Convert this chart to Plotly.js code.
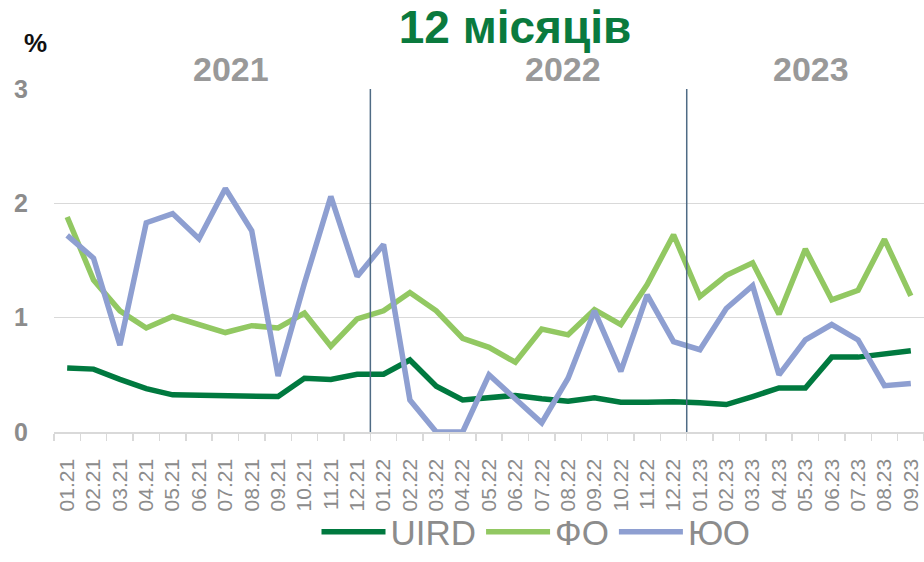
<!DOCTYPE html>
<html>
<head>
<meta charset="utf-8">
<script src="https://cdn.plot.ly/plotly-3.0.1.min.js"></script>
<style>html,body{margin:0;padding:0;background:#fff;}#chart{width:924px;height:562px;}</style>
</head>
<body>
<div id="chart"></div>
<script>
const months = ["01.21","02.21","03.21","04.21","05.21","06.21","07.21","08.21","09.21","10.21","11.21","12.21",
                "01.22","02.22","03.22","04.22","05.22","06.22","07.22","08.22","09.22","10.22","11.22","12.22",
                "01.23","02.23","03.23","04.23","05.23","06.23","07.23","08.23","09.23"];
const uird = [0.56,0.55,0.46,0.38,0.325,0.32,0.315,0.31,0.31,0.47,0.46,0.505,
              0.505,0.63,0.40,0.28,0.30,0.32,0.29,0.27,0.30,0.26,0.26,0.265,
              0.255,0.24,0.31,0.385,0.385,0.655,0.655,0.68,0.71];
const fo   = [1.88,1.33,1.06,0.91,1.01,0.94,0.87,0.93,0.91,1.04,0.75,0.99,
              1.06,1.22,1.06,0.82,0.74,0.61,0.90,0.85,1.07,0.94,1.29,1.725,
              1.185,1.37,1.48,1.03,1.60,1.155,1.24,1.685,1.19];
const yuo  = [1.72,1.52,0.76,1.83,1.91,1.69,2.13,1.76,0.49,1.30,2.06,1.36,
              1.64,0.28,0.0,0.0,0.50,0.29,0.08,0.47,1.06,0.53,1.20,0.79,
              0.72,1.08,1.28,0.50,0.805,0.94,0.805,0.405,0.425];
const seriesNames = ["UIRD","ФО","ЮО"];
const years = ["2021","2022","2023"];
const yearDividers = [11.5, 23.5];
const yearLabelPos = [6.2, 18.8, 28.2];

const colors = ["#00793f","#92c862","#8e9fd1"];
const FONT = "Liberation Sans, Arial, sans-serif";

const traces = [uird, fo, yuo].map((vals, i) => ({
  x: months, y: vals, type: "scatter", mode: "lines", name: seriesNames[i],
  line: {color: colors[i], width: 5.5, shape: "linear"}
}));

const shapes = yearDividers.map(v => ({
  type: "line", xref: "x", yref: "y", x0: v, x1: v, y0: 0, y1: 3,
  line: {color: "#4f6b85", width: 1.5}, layer: "above"
}));

const annotations = years.map((t, i) => ({
  text: t, xref: "x", yref: "paper", x: yearLabelPos[i], y: 1 + 20/350,
  xanchor: "center", yanchor: "middle", showarrow: false,
  font: {family: FONT, size: 34, color: "#999999", weight: "bold"}
}));
annotations.push({
  text: "%", xref: "paper", yref: "paper", x: (35-54)/870, y: 1 + 47/350,
  xanchor: "center", yanchor: "middle", showarrow: false,
  font: {family: FONT, size: 26, color: "#111111", weight: "bold"}
});

const layout = {
  width: 924, height: 562,
  margin: {l: 54, r: 0, t: 89, b: 123, pad: 0},
  paper_bgcolor: "#ffffff", plot_bgcolor: "#ffffff",
  showlegend: true,
  title: {text: "12 місяців", x: 515/924, xanchor: "center", xref: "container",
          y: 1 - 27/562, yanchor: "middle", yref: "container",
          font: {family: FONT, size: 46, color: "#0a7a3e", weight: "bold"}},
  xaxis: {
    type: "category", range: [-0.5, 32.5], tickangle: -90,
    tickson: "boundaries", ticks: "outside", ticklen: 7, tickcolor: "#d9d9d9", tickwidth: 1.5,
    showgrid: false, showline: true, linecolor: "#d9d9d9", linewidth: 1.5,
    tickfont: {family: FONT, size: 21, color: "#8c8c8c"}, ticklabelstandoff: 17,
    fixedrange: true
  },
  yaxis: {
    range: [0, 3], dtick: 1, tick0: 0, showgrid: true, gridcolor: "#d9d9d9", gridwidth: 1.5,
    zeroline: false, showline: false, ticks: "",
    tickfont: {family: FONT, size: 25, color: "#8c8c8c", weight: "bold"},
    ticklabelstandoff: 25, fixedrange: true
  },
  legend: {
    orientation: "h", x: (536-54)/870, xanchor: "center", xref: "paper",
    y: (439-541)/350, yanchor: "middle",
    font: {family: FONT, size: 35, color: "#8c8c8c"},
    itemwidth: 64, bgcolor: "rgba(0,0,0,0)"
  },
  shapes: shapes,
  annotations: annotations
};

Plotly.newPlot("chart", traces, layout, {displayModeBar: false, staticPlot: true});
</script>
</body>
</html>
